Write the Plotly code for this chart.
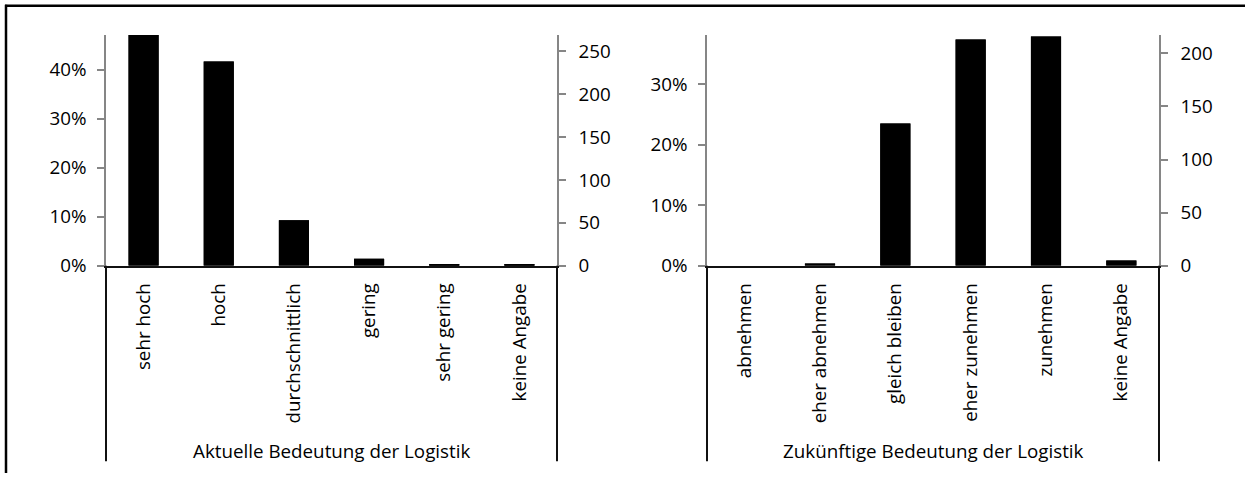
import plotly.graph_objects as go

# Survey answers: importance of logistics today and in the future (number of responses)
current_labels = ["sehr hoch", "hoch", "durchschnittlich", "gering", "sehr gering", "keine Angabe"]
current_counts = [269, 238, 53, 8, 2, 2]
current_title = "Aktuelle Bedeutung der Logistik"

future_labels = ["abnehmen", "eher abnehmen", "gleich bleiben", "eher zunehmen", "zunehmen", "keine Angabe"]
future_counts = [0, 2, 134, 213, 216, 5]
future_title = "Zukünftige Bedeutung der Logistik"

# upper ends of the count axes
current_count_max = 269
future_count_max = 217.3

W, H = 1245, 486
FONT = "Open Sans"
FS = 18.8


def px(x):
    return x / W


def py(y):
    return 1 - y / H


current_total = sum(current_counts)
future_total = sum(future_counts)
current_share = [c / current_total for c in current_counts]
future_share = [c / future_total for c in future_counts]

fig = go.Figure()

bar_style = dict(marker=dict(color="black", line=dict(width=0)), width=0.4, hoverinfo="skip", showlegend=False)

fig.add_trace(go.Bar(x=current_labels, y=current_share, xaxis="x", yaxis="y", **bar_style))
fig.add_trace(go.Bar(x=current_labels, y=current_counts, xaxis="x", yaxis="y2", **bar_style))
fig.add_trace(go.Bar(x=future_labels, y=future_share, xaxis="x2", yaxis="y3", **bar_style))
fig.add_trace(go.Bar(x=future_labels, y=future_counts, xaxis="x2", yaxis="y4", **bar_style))

top, bottom = 36, 273
ydom = [py(bottom), py(top)]
left_dom = [px(106), px(557)]
right_dom = [px(707), px(1159)]

tickfont = dict(family=FONT, size=FS, color="black")

xcommon = dict(
    type="category", range=[-0.5, 5.5], fixedrange=True, showgrid=False, zeroline=False,
    showline=True, linecolor="#111111", linewidth=2, ticks="", tickangle=-90,
    ticklabelstandoff=8, tickfont=tickfont,
)
ypct = dict(
    showgrid=False, zeroline=False, showline=True, linecolor="#868686", linewidth=1.5,
    ticks="outside", ticklen=7, tickcolor="#868686", tickwidth=1.5, tickformat=".0%",
    dtick=0.1, tick0=0, tickfont=tickfont, fixedrange=True, ticklabelstandoff=7,
)
ycnt = dict(
    showgrid=False, zeroline=False, showline=True, linecolor="#868686", linewidth=1.5,
    ticks="outside", ticklen=7, tickcolor="#868686", tickwidth=1.5,
    dtick=50, tick0=0, tickfont=tickfont, fixedrange=True, side="right", ticklabelstandoff=9,
)

fig.update_layout(
    width=W, height=H,
    margin=dict(l=0, r=0, t=0, b=0),
    paper_bgcolor="white", plot_bgcolor="rgba(0,0,0,0)",
    barmode="overlay",
    font=dict(family=FONT, size=FS, color="black"),
    xaxis=dict(domain=left_dom, anchor="y", **xcommon),
    yaxis=dict(domain=ydom, anchor="x", range=[0, current_count_max / current_total], **ypct),
    yaxis2=dict(overlaying="y", anchor="x", range=[0, current_count_max], **ycnt),
    xaxis2=dict(domain=right_dom, anchor="y3", **xcommon),
    yaxis3=dict(domain=ydom, anchor="x2", range=[0, future_count_max / future_total], **ypct),
    yaxis4=dict(overlaying="y3", anchor="x2", range=[0, future_count_max], **ycnt),
)

shapes = []
# group separators below the category axis
for xpix in (106, 557, 707, 1159):
    shapes.append(dict(type="line", xref="paper", yref="paper",
                       x0=px(xpix), x1=px(xpix), y0=py(bottom), y1=py(474),
                       line=dict(color="#111111", width=2)))
# chart frame (top and left edges; the rest runs past the page)
shapes.append(dict(type="line", xref="paper", yref="paper",
                   x0=px(5), x1=1.0, y0=py(6), y1=py(6),
                   line=dict(color="black", width=2.5)))
shapes.append(dict(type="line", xref="paper", yref="paper",
                   x0=px(6), x1=px(6), y0=py(5), y1=0.0,
                   line=dict(color="black", width=2.5)))
fig.update_layout(shapes=shapes)

for dom, title in ((left_dom, current_title), (right_dom, future_title)):
    fig.add_annotation(text=title, xref="paper", yref="paper",
                       x=(dom[0] + dom[1]) / 2, y=py(463), xanchor="center", yanchor="middle",
                       showarrow=False, font=dict(family=FONT, size=FS, color="black"))

fig.write_html("out.html")
